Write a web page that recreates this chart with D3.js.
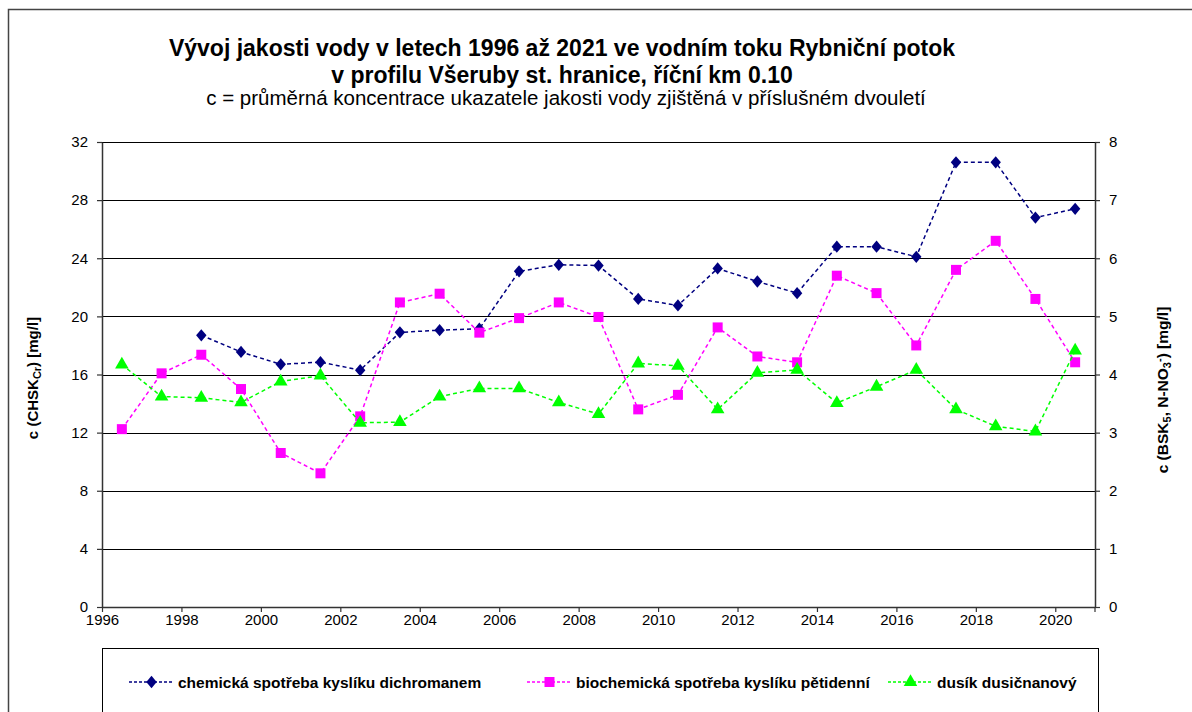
<!DOCTYPE html>
<html>
<head>
<meta charset="utf-8">
<script src="https://cdn.jsdelivr.net/npm/d3@7"></script>
<style>
  body { margin: 0; background: #fff; }
  svg { display: block; font-family: "Liberation Sans", Arial, sans-serif; }
</style>
</head>
<body>
<div id="chart"></div>
<script>
// data: two-year averages, plotted at mid-interval
const years = [1996.5, 1997.5, 1998.5, 1999.5, 2000.5, 2001.5, 2002.5, 2003.5, 2004.5,
  2005.5, 2006.5, 2007.5, 2008.5, 2009.5, 2010.5, 2011.5, 2012.5, 2013.5, 2014.5,
  2015.5, 2016.5, 2017.5, 2018.5, 2019.5, 2020.5];
const chsk = [null, null, 18.7, 17.55, 16.7, 16.85, 16.3, 18.9, 19.05, 19.15, 23.1, 23.55,
  23.5, 21.2, 20.75, 23.3, 22.4, 21.6, 24.8, 24.8, 24.1, 30.6, 30.6, 26.8, 27.4];
const bsk = [3.06, 4.02, 4.34, 3.75, 2.65, 2.3, 3.28, 5.24, 5.39, 4.72, 4.97, 5.24,
  4.99, 3.4, 3.65, 4.81, 4.31, 4.21, 5.7, 5.4, 4.5, 5.8, 6.3, 5.3, 4.21];
const dusik = [4.17, 3.62, 3.6, 3.52, 3.88, 3.98, 3.17, 3.18, 3.62, 3.76, 3.76, 3.52,
  3.32, 4.19, 4.15, 3.4, 4.03, 4.08, 3.51, 3.79, 4.08, 3.4, 3.11, 3.02, 4.41];
const xTicks = d3.range(1996, 2021, 2);
const leftTicks = [0, 4, 8, 12, 16, 20, 24, 28, 32];
const rightTicks = [0, 1, 2, 3, 4, 5, 6, 7, 8];

const W = 1192, H = 712;
const svg = d3.select("#chart").append("svg").attr("width", W).attr("height", H);

// chart frame
svg.append("rect").attr("x", 8.5).attr("y", 9.5).attr("width", W).attr("height", H)
  .attr("fill", "none").attr("stroke", "#444").attr("stroke-width", 1.5);

const x = d3.scaleLinear().domain([1996, 2021]).range([102, 1095]);
const yL = d3.scaleLinear().domain([0, 32]).range([607, 142]);
const yR = d3.scaleLinear().domain([0, 8]).range([607, 142]);

// titles
svg.append("text").attr("x", 562).attr("y", 56).attr("text-anchor", "middle")
  .attr("font-size", 23).attr("font-weight", "bold")
  .text("Vývoj jakosti vody v letech 1996 až 2021 ve vodním toku Rybniční potok");
svg.append("text").attr("x", 562).attr("y", 83).attr("text-anchor", "middle")
  .attr("font-size", 23).attr("font-weight", "bold")
  .text("v profilu Všeruby st. hranice, říční km 0.10");
svg.append("text").attr("x", 566).attr("y", 105).attr("text-anchor", "middle")
  .attr("font-size", 20.5)
  .text("c = průměrná koncentrace ukazatele jakosti vody zjištěná v příslušném dvouletí");

// gridlines
svg.append("g").selectAll("line").data(leftTicks.filter((d) => d > 0)).join("line")
  .attr("x1", x(1996)).attr("x2", x(2021))
  .attr("y1", (d) => Math.round(yL(d)) + 0.5).attr("y2", (d) => Math.round(yL(d)) + 0.5)
  .attr("stroke", "#000").attr("stroke-width", 1.2);

function styleAxis(g) {
  g.select(".domain").attr("stroke", "#333").attr("stroke-width", 1.5);
  g.selectAll(".tick line").attr("stroke", "#333").attr("stroke-width", 1.2);
  g.selectAll("text").attr("font-size", 15).attr("fill", "#000")
    .attr("font-family", "'Liberation Sans', Arial, sans-serif");
}

svg.append("g").attr("transform", "translate(102,0)")
  .call(d3.axisLeft(yL).tickValues(leftTicks).tickSize(5).tickSizeOuter(0).tickPadding(9))
  .call(styleAxis);
svg.append("g").attr("transform", "translate(1095,0)")
  .call(d3.axisRight(yR).tickValues(rightTicks).tickSize(5).tickSizeOuter(0).tickPadding(9))
  .call(styleAxis);
svg.append("g").attr("transform", "translate(0,607)")
  .call(d3.axisBottom(x).tickValues(xTicks).tickFormat(d3.format("d")).tickSize(5).tickSizeOuter(0).tickPadding(2))
  .call(styleAxis);
// last tick at 2021 edge (no label)
svg.append("line").attr("x1", x(2021)).attr("x2", x(2021)).attr("y1", 607).attr("y2", 612)
  .attr("stroke", "#333").attr("stroke-width", 1.2);

// axis titles
const lt = svg.append("text").attr("transform", "translate(38,378) rotate(-90)")
  .attr("text-anchor", "middle").attr("font-size", 15).attr("font-weight", "bold");
lt.append("tspan").text("c (CHSK");
lt.append("tspan").attr("font-size", 11).attr("dy", 3).text("Cr");
lt.append("tspan").attr("dy", -3).text(") [mg/l]");

const rt = svg.append("text").attr("transform", "translate(1168,390) rotate(-90)")
  .attr("text-anchor", "middle").attr("font-size", 15.5).attr("font-weight", "bold");
rt.append("tspan").text("c (BSK");
rt.append("tspan").attr("font-size", 11).attr("dy", 3).text("5");
rt.append("tspan").attr("dy", -3).text(",  N-NO");
rt.append("tspan").attr("font-size", 11).attr("dy", 3).text("3");
rt.append("tspan").attr("font-size", 11).attr("dy", -8).text("-");
rt.append("tspan").attr("dy", 5).text(") [mg/l]");

const series = [
  { name: "chemická spotřeba kyslíku dichromanem", values: chsk, y: yL, color: "#000080", symbol: d3.symbolDiamond, size: 60 },
  { name: "biochemická spotřeba kyslíku pětidenní", values: bsk, y: yR, color: "#ff00ff", symbol: d3.symbolSquare, size: 100 },
  { name: "dusík dusičnanový", values: dusik, y: yR, color: "#00ff00", symbol: d3.symbolTriangle, size: 80 },
];

function symTransform(s) {
  return s.symbol === d3.symbolDiamond ? " scale(1.25,0.85)" : "";
}

series.forEach((s) => {
  const pts = years.map((yr, i) => ({ yr, v: s.values[i] })).filter((d) => d.v != null);
  const line = d3.line().x((d) => x(d.yr)).y((d) => s.y(d.v));
  svg.append("path").datum(pts).attr("d", line).attr("fill", "none")
    .attr("stroke", s.color).attr("stroke-width", 1.5).attr("stroke-dasharray", "4,3");
  svg.append("g").selectAll("path").data(pts).join("path")
    .attr("transform", (d) => `translate(${x(d.yr)},${s.y(d.v)})${symTransform(s)}`)
    .attr("d", d3.symbol(s.symbol, s.size)).attr("fill", s.color);
});

// legend
svg.append("rect").attr("x", 102.5).attr("y", 648.5).attr("width", 996).attr("height", 80)
  .attr("fill", "#fff").attr("stroke", "#000").attr("stroke-width", 1);
const legX = [129, 527, 888];
series.forEach((s, i) => {
  const g = svg.append("g").attr("transform", `translate(${legX[i]},682)`);
  g.append("line").attr("x1", 0).attr("x2", 45).attr("y1", 0).attr("y2", 0)
    .attr("stroke", s.color).attr("stroke-width", 1.5).attr("stroke-dasharray", "3,2");
  g.append("path").attr("transform", `translate(22.5,0)${symTransform(s)}`)
    .attr("d", d3.symbol(s.symbol, s.size)).attr("fill", s.color);
  g.append("text").attr("x", 49).attr("y", 5.5).attr("font-size", 15.5).attr("font-weight", "bold")
    .text(s.name);
});
</script>
</body>
</html>
